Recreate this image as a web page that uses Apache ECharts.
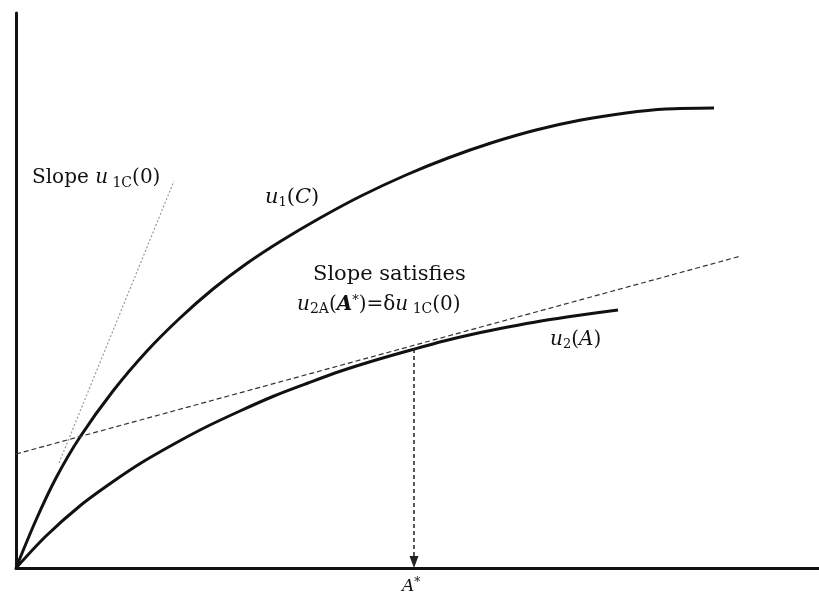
<!DOCTYPE html>
<html>
<head>
<meta charset="utf-8">
<script src="https://cdn.jsdelivr.net/npm/echarts@6/dist/echarts.min.js"></script>
<style>html,body{margin:0;padding:0;background:#fff;}#c{width:819px;height:596px;}</style>
</head>
<body>
<div id="c"></div>
<script>
// u1(C) curve
const u1X = [0, 20, 40, 64, 97, 131, 164, 197, 230, 265, 304, 345, 390, 432, 475, 520, 565, 610, 650, 698];
const u1Y = [0, 48, 90, 131, 177, 217, 250, 279, 304, 327, 350, 372, 393, 410, 425, 438, 448, 455, 459, 460];
// u2(A) curve
const u2X = [0, 30, 65, 95, 125, 158, 190, 224, 258, 292, 325, 360, 395, 428, 460, 492, 525, 565, 602];
const u2Y = [0, 32, 63, 85, 105, 124, 141, 157, 172, 185, 197, 208, 218, 227, 234.5, 241, 247, 253, 258];
// tangent with slope delta*u1C(0) touching u2 at A*
const tanX = [0, 725];
const tanY = [114, 312];
// slope u1C(0) at origin (drawn segment)
const slopeX = [43, 158];
const slopeY = [105, 387];
// A*
const aStar = 398;
const aStarY = 219;

const zip = (xs, ys) => xs.map((x, i) => [x, ys[i]]);
const serif = '"DejaVu Serif", "Liberation Serif", serif';

const chart = echarts.init(document.getElementById('c'));
chart.setOption({
  animation: false,
  backgroundColor: '#fff',
  grid: { left: 16, right: 0, top: 13, bottom: 28 },
  xAxis: {
    type: 'value', min: 0, max: 803,
    axisLine: { show: true, onZero: false, lineStyle: { color: '#111', width: 3 } },
    axisTick: { show: false }, axisLabel: { show: false }, splitLine: { show: false }
  },
  yAxis: {
    type: 'value', min: 0, max: 555,
    axisLine: { show: true, onZero: false, lineStyle: { color: '#111', width: 3 } },
    axisTick: { show: false }, axisLabel: { show: false }, splitLine: { show: false }
  },
  series: [
    { type: 'line', data: zip(u1X, u1Y), smooth: 0.3, symbol: 'none',
      lineStyle: { color: '#111', width: 3 } },
    { type: 'line', data: zip(u2X, u2Y), smooth: 0.3, symbol: 'none',
      lineStyle: { color: '#111', width: 3 },
      markLine: {
        silent: true, symbol: ['none', 'triangle'], symbolSize: [9, 12],
        label: { show: false },
        lineStyle: { color: '#222', width: 1.5, type: [4, 3] },
        data: [[{ coord: [aStar, aStarY] }, { coord: [aStar, 6] }]]
      } },
    { type: 'line', data: zip(tanX, tanY), symbol: 'none',
      lineStyle: { color: '#333', width: 1.2, type: [5, 3] } },
    { type: 'line', data: zip(slopeX, slopeY), symbol: 'none',
      lineStyle: { color: '#999', width: 1.2, type: [2, 2] } }
  ],
  graphic: [
    { type: 'text', left: 32, top: 168, style: {
      text: '{n|Slope }{i|u}{s| 1C}{n|(0)}',
      rich: {
        n: { fontFamily: serif, fontSize: 20, fill: '#111' },
        i: { fontFamily: serif, fontSize: 20, fontStyle: 'italic', fill: '#111' },
        s: { fontFamily: serif, fontSize: 14, fill: '#111', padding: [10, 0, 0, 0] }
      } } },
    { type: 'text', left: 265, top: 187, style: {
      text: '{i|u}{s|1}{n|(}{i|C}{n|)}',
      rich: {
        n: { fontFamily: serif, fontSize: 21, fill: '#111' },
        i: { fontFamily: serif, fontSize: 21, fontStyle: 'italic', fill: '#111' },
        s: { fontFamily: serif, fontSize: 13, fill: '#111', padding: [10, 0, 0, 0] }
      } } },
    { type: 'text', left: 313, top: 264, style: {
      text: 'Slope satisfies', fontFamily: serif, fontSize: 21, fill: '#111' } },
    { type: 'text', left: 297, top: 294, style: {
      text: '{i|u}{s|2A}{n|(}{bi|A}{sup|*}{n|)=δ}{i|u}{s| 1C}{n|(0)}',
      rich: {
        n: { fontFamily: serif, fontSize: 20, fill: '#111' },
        i: { fontFamily: serif, fontSize: 20, fontStyle: 'italic', fill: '#111' },
        bi: { fontFamily: serif, fontSize: 20, fontStyle: 'italic', fontWeight: 'bold', fill: '#111' },
        sup: { fontFamily: serif, fontSize: 13, fill: '#111', padding: [0, 0, 8, 0] },
        s: { fontFamily: serif, fontSize: 14, fill: '#111', padding: [10, 0, 0, 0] }
      } } },
    { type: 'text', left: 550, top: 330, style: {
      text: '{i|u}{s|2}{n|(}{i|A}{n|)}',
      rich: {
        n: { fontFamily: serif, fontSize: 20, fill: '#111' },
        i: { fontFamily: serif, fontSize: 20, fontStyle: 'italic', fill: '#111' },
        s: { fontFamily: serif, fontSize: 13, fill: '#111', padding: [10, 0, 0, 0] }
      } } },
    { type: 'text', left: 402, top: 577, style: {
      text: '{i|A}{sup|*}',
      rich: {
        i: { fontFamily: serif, fontSize: 17, fontStyle: 'italic', fill: '#111' },
        sup: { fontFamily: serif, fontSize: 12, fill: '#111', padding: [0, 0, 8, 0] }
      } } }
  ]
});
</script>
</body>
</html>
